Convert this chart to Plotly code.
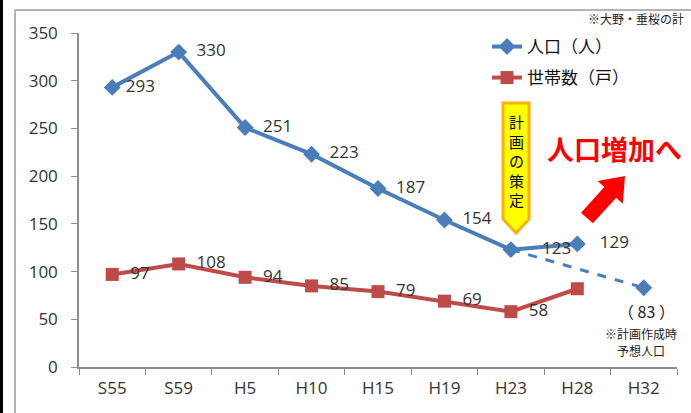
import math
import plotly.graph_objects as go

categories = ["S55", "S59", "H5", "H10", "H15", "H19", "H23", "H28", "H32"]
population = [293, 330, 251, 223, 187, 154, 123, 129, None]
households = [97, 108, 94, 85, 79, 69, 58, 82, None]
proj_cats = ["H23", "H32"]
proj_pop = [123, 83]
y_ticks = [0, 50, 100, 150, 200, 250, 300, 350]

W, H = 691, 413
L, R, T, B = 79, 14, 33, 46
PW, PH = W - L - R, H - T - B


def px(x):
    return (x - L) / PW


def py(y):
    return (H - B - y) / PH


BLUE = "#4a7ebb"
RED = "#be4b48"
NUMFONT = dict(family="Open Sans, sans-serif", size=17, color="#333")
JP = "Noto Sans CJK JP"

pop_pad = [" ", "  ", "  ", "  ", "  ", "  ", "     ", "   ", ""]
hh_pad = ["  ", "  ", "  ", "  ", "  ", "  ", "  ", "", ""]
pop_text = [p + str(v) if v is not None and i < 8 else "" for i, (p, v) in enumerate(zip(pop_pad, population))]
hh_text = [p + str(v) if v is not None and i < 7 else "" for i, (p, v) in enumerate(zip(hh_pad, households))]

fig = go.Figure()
fig.add_trace(go.Scatter(
    x=proj_cats, y=proj_pop, mode="lines", showlegend=False,
    line=dict(color=BLUE, width=3, dash="dash"), cliponaxis=False))
fig.add_trace(go.Scatter(
    x=proj_cats[1:], y=proj_pop[1:], mode="markers", showlegend=False,
    marker=dict(symbol="diamond", size=13, color=BLUE), cliponaxis=False))
fig.add_trace(go.Scatter(
    x=categories, y=population, name="人口（人）", mode="lines+markers+text",
    line=dict(color=BLUE, width=4), marker=dict(symbol="diamond", size=13, color=BLUE),
    text=pop_text, textposition="middle right", textfont=NUMFONT, cliponaxis=False,
    legend="legend"))
fig.add_trace(go.Scatter(
    x=categories, y=households, name="世帯数（戸）", mode="lines+markers+text",
    line=dict(color=RED, width=4), marker=dict(symbol="square", size=13, color=RED),
    text=hh_text, textposition="middle right", textfont=NUMFONT, cliponaxis=False,
    legend="legend2"))

shapes = []
shapes.append(dict(type="rect", xref="paper", yref="paper", x0=px(0), x1=px(3), y0=py(413), y1=py(0),
                   fillcolor="black", line=dict(width=0), layer="above"))
shapes.append(dict(type="line", xref="paper", yref="paper", x0=px(15), x1=px(15), y0=py(10), y1=py(413),
                   line=dict(color="#9a9a9a", width=1.5)))
shapes.append(dict(type="line", xref="paper", yref="paper", x0=px(15), x1=px(691), y0=py(10), y1=py(10),
                   line=dict(color="#9a9a9a", width=1.5)))

cl, cr, ct, cb, tip = 503, 529, 103, 219, 233
path = "M {} {} L {} {} L {} {} L {} {} L {} {} Z".format(
    px(cl), py(ct), px(cr), py(ct), px(cr), py(cb), px((cl + cr) / 2), py(tip), px(cl), py(cb))
shapes.append(dict(type="path", xref="paper", yref="paper", path=path,
                   fillcolor="#ffff00", line=dict(color="#ffb000", width=3)))

tx, ty, hx, hy = 587, 218, 625, 176
d = math.hypot(hx - tx, hy - ty)
ux, uy = (hx - tx) / d, (hy - ty) / d
nx, ny = -uy, ux
bx, by = hx - 22 * ux, hy - 22 * uy
pts = [(tx + 8 * nx, ty + 8 * ny), (bx + 8 * nx, by + 8 * ny), (bx + 17 * nx, by + 17 * ny), (hx, hy),
       (bx - 17 * nx, by - 17 * ny), (bx - 8 * nx, by - 8 * ny), (tx - 8 * nx, ty - 8 * ny)]
apath = "M " + " L ".join("{} {}".format(px(a), py(b)) for a, b in pts) + " Z"
shapes.append(dict(type="path", xref="paper", yref="paper", path=apath,
                   fillcolor="#ff0000", line=dict(width=0)))

annotations = [
    dict(text="※大野・垂桜の計", x=px(686), y=py(18), xanchor="right", yanchor="middle",
         font=dict(family=JP, size=12, color="#222")),
    dict(text="計<br>画<br>の<br>策<br>定", x=px(516), y=py(160), xanchor="center", yanchor="middle",
         font=dict(family=JP, size=15, color="#000"), align="center"),
    dict(text="<b>人口増加へ</b>", x=px(614), y=py(148), xanchor="center", yanchor="middle",
         font=dict(family=JP, size=27, color="#ff0000")),
    dict(text="（ 83 ）", x=px(646), y=py(311), xanchor="center", yanchor="middle",
         font=dict(family=JP, size=16, color="#222")),
    dict(text="※計画作成時", x=px(641), y=py(333), xanchor="center", yanchor="middle",
         font=dict(family=JP, size=12, color="#222")),
    dict(text="予想人口", x=px(641), y=py(350), xanchor="center", yanchor="middle",
         font=dict(family=JP, size=12, color="#222")),
]
for a in annotations:
    a.update(xref="paper", yref="paper", showarrow=False)

legfont = dict(family=JP, size=17, color="#111")
fig.update_layout(
    width=W, height=H, margin=dict(l=L, r=R, t=T, b=B),
    paper_bgcolor="white", plot_bgcolor="white",
    shapes=shapes, annotations=annotations,
    showlegend=True,
    legend=dict(x=px(487), y=py(47), xanchor="left", yanchor="middle", bgcolor="rgba(0,0,0,0)",
                font=legfont),
    legend2=dict(x=px(487), y=py(78), xanchor="left", yanchor="middle", bgcolor="rgba(0,0,0,0)",
                 font=legfont),
    xaxis=dict(type="category", categoryorder="array", categoryarray=categories,
               showline=True, linecolor="#8c8c8c", linewidth=1.5, ticks="outside", tickson="boundaries",
               ticklen=6, tickcolor="#8c8c8c", showgrid=False, zeroline=False,
               tickfont=NUMFONT, range=[-0.5, 8.5], ticklabelstandoff=5),
    yaxis=dict(range=[0, 350], tickvals=y_ticks, showline=True, linecolor="#8c8c8c", linewidth=1.5,
               ticks="outside", ticklen=6, tickcolor="#8c8c8c", showgrid=False, zeroline=False,
               tickfont=NUMFONT, ticklabelstandoff=10),
)

fig.write_html("out.html")
